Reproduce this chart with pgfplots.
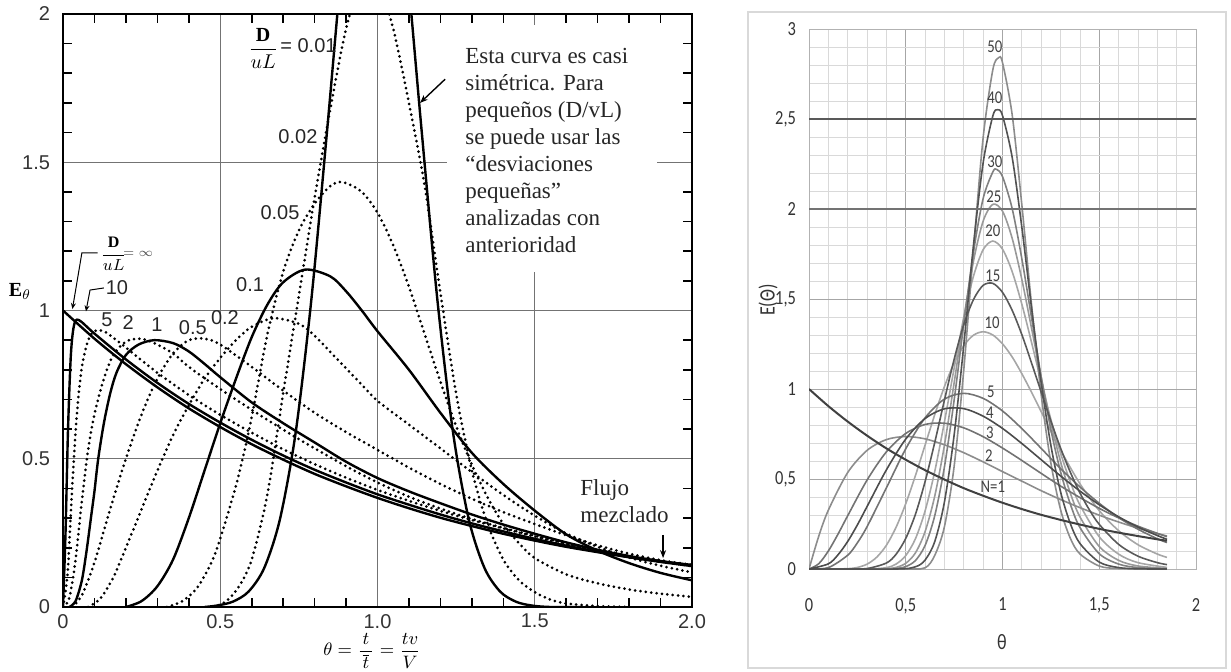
\documentclass[border=0pt]{standalone}
\usepackage{amsmath}
\usepackage{pgfplots}
\pgfplotsset{compat=1.18}
\usetikzlibrary{arrows.meta}
\usepackage{fontspec}
\setmainfont{Liberation Serif}
\newfontfamily\lsans{Liberation Sans}
\newfontfamily\calf[FakeStretch=0.82]{Carlito}
\tikzset{
 solc/.style={black, line width=1.2pt, smooth},
 dotc/.style={black, line width=1.5pt, line cap=round, dash pattern=on 0pt off 2.7pt, smooth},
 lab/.style={font=\lsans\fontsize{10}{12}\selectfont, text=black!85},
 nlab/.style={font=\calf\fontsize{9}{11}\selectfont, text=black!75, inner sep=0.5pt},
}
\begin{document}
\begin{tikzpicture}
\path[use as bounding box] (0,0) rectangle (615.5pt,335.5pt);
\draw[black!15, line width=0.8pt] (374pt,1.5pt) rectangle (613pt,329.5pt);
% ---------------- LEFT PANEL ----------------
\begin{axis}[
 at={(31.5pt,32pt)}, anchor=south west,
 scale only axis, width=314.5pt, height=296.5pt,
 xmin=0, xmax=2, ymin=0, ymax=2,
 xtick={0,0.5,1,1.5,2}, xticklabels={0,0.5,1.0,1.5,2.0},
 ytick={0,0.5,1,1.5,2}, yticklabels={0,0.5,1,1.5,2},
 ticklabel pos=left,
 major tick length=0pt,
 grid=major, major grid style={black!55, line width=0.5pt},
 axis line style={black, line width=1pt},
 ticklabel style={font=\lsans\fontsize{10}{12}\selectfont, text=black!80},
 yticklabel style={xshift=-3pt},
 clip=true,
]
% mixed flow (D/uL = infinity)
\addplot[solc] coordinates {(0,1.0) (0.1,0.905) (0.2,0.819) (0.3,0.741) (0.4,0.670) (0.5,0.607) (0.6,0.549) (0.7,0.497) (0.8,0.449) (0.9,0.407) (1.0,0.368) (1.1,0.333) (1.2,0.301) (1.3,0.273) (1.4,0.247) (1.5,0.224) (1.6,0.203) (1.7,0.185) (1.8,0.168) (1.9,0.154) (2.0,0.142)};
% 10
\addplot[solc] coordinates {(0,0) (0.008,0.25) (0.016,0.6) (0.025,0.85) (0.035,0.95) (0.05,0.968) (0.1,0.922) (0.2,0.835) (0.3,0.756) (0.4,0.685) (0.5,0.622) (0.6,0.564) (0.7,0.511) (0.8,0.463) (0.9,0.42) (1.0,0.38) (1.1,0.345) (1.2,0.312) (1.3,0.282) (1.4,0.255) (1.5,0.23) (1.6,0.207) (1.7,0.187) (1.8,0.168) (1.9,0.152) (2.0,0.138)};
% 5
\addplot[dotc] coordinates {(0,0) (0.015,0.12) (0.03,0.42) (0.045,0.66) (0.06,0.81) (0.08,0.9) (0.1,0.93) (0.13,0.93) (0.17,0.9) (0.2,0.875) (0.3,0.79) (0.4,0.715) (0.5,0.648) (0.6,0.588) (0.7,0.532) (0.8,0.482) (0.9,0.436) (1.0,0.395) (1.1,0.358) (1.2,0.324) (1.3,0.293) (1.4,0.265) (1.5,0.238) (1.6,0.213) (1.7,0.19) (1.8,0.17) (1.9,0.153) (2.0,0.138)};
% 2
\addplot[dotc] coordinates {(0,0) (0.02,0.03) (0.04,0.16) (0.06,0.36) (0.08,0.53) (0.1,0.65) (0.13,0.77) (0.16,0.85) (0.2,0.895) (0.24,0.905) (0.28,0.895) (0.35,0.855) (0.4,0.81) (0.5,0.735) (0.6,0.665) (0.7,0.598) (0.8,0.535) (0.9,0.475) (1.0,0.42) (1.1,0.372) (1.2,0.332) (1.3,0.297) (1.4,0.267) (1.5,0.24) (1.6,0.215) (1.7,0.193) (1.8,0.172) (1.9,0.155) (2.0,0.14)};
% 1
\addplot[solc] coordinates {(0.02,0) (0.04,0.02) (0.06,0.09) (0.075,0.19) (0.09,0.31) (0.1,0.39) (0.112,0.5) (0.13,0.62) (0.15,0.72) (0.17,0.79) (0.2,0.85) (0.24,0.885) (0.29,0.9) (0.35,0.89) (0.4,0.862) (0.45,0.82) (0.5,0.775) (0.6,0.69) (0.7,0.62) (0.8,0.555) (0.9,0.49) (1.0,0.435) (1.1,0.39) (1.2,0.35) (1.3,0.312) (1.4,0.278) (1.5,0.247) (1.6,0.218) (1.7,0.193) (1.8,0.172) (1.9,0.155) (2.0,0.14)};
% 0.5
\addplot[dotc] coordinates {(0.03,0) (0.06,0.04) (0.1,0.15) (0.15,0.33) (0.2,0.5) (0.25,0.65) (0.3,0.77) (0.35,0.855) (0.4,0.9) (0.45,0.905) (0.5,0.885) (0.6,0.81) (0.7,0.73) (0.8,0.655) (0.9,0.59) (1.0,0.53) (1.1,0.47) (1.2,0.415) (1.3,0.365) (1.4,0.32) (1.5,0.28) (1.6,0.242) (1.7,0.208) (1.8,0.18) (1.9,0.158) (2.0,0.142)};
% 0.2
\addplot[dotc] coordinates {(0.08,0) (0.12,0.03) (0.16,0.1) (0.2,0.2) (0.25,0.33) (0.3,0.46) (0.35,0.58) (0.4,0.68) (0.45,0.77) (0.5,0.84) (0.55,0.9) (0.6,0.945) (0.67,0.974) (0.75,0.955) (0.8,0.915) (0.85,0.86) (0.9,0.805) (0.95,0.75) (1.0,0.695) (1.1,0.615) (1.2,0.535) (1.3,0.455) (1.4,0.378) (1.5,0.308) (1.6,0.248) (1.7,0.203) (1.8,0.167) (1.9,0.139) (2.0,0.117)};
% 0.1
\addplot[solc] coordinates {(0.2,0) (0.25,0.02) (0.3,0.07) (0.35,0.16) (0.4,0.3) (0.45,0.46) (0.5,0.62) (0.55,0.77) (0.6,0.91) (0.65,1.02) (0.7,1.095) (0.77,1.138) (0.85,1.115) (0.9,1.065) (0.95,1.0) (1.0,0.93) (1.1,0.8) (1.2,0.655) (1.3,0.52) (1.4,0.415) (1.5,0.325) (1.6,0.245) (1.7,0.19) (1.8,0.148) (1.9,0.115) (2.0,0.09)};
% 0.05
\addplot[dotc] coordinates {(0.33,0) (0.38,0.02) (0.43,0.07) (0.48,0.17) (0.52,0.3) (0.56,0.45) (0.6,0.64) (0.65,0.92) (0.7,1.13) (0.75,1.27) (0.8,1.36) (0.85,1.42) (0.89,1.433) (0.95,1.4) (1.0,1.33) (1.05,1.22) (1.1,1.08) (1.15,0.92) (1.2,0.76) (1.25,0.61) (1.3,0.48) (1.35,0.37) (1.4,0.28) (1.45,0.215) (1.5,0.165) (1.6,0.11) (1.7,0.08) (1.8,0.059) (1.9,0.045) (2.0,0.034)};
% 0.02
\addplot[dotc] coordinates {(0.48,0) (0.52,0.02) (0.56,0.07) (0.6,0.16) (0.65,0.38) (0.7,0.72) (0.75,1.05) (0.8,1.38) (0.85,1.68) (0.9,1.95) (0.95,2.12) (0.97,2.15) (1.0,2.12) (1.05,1.95) (1.1,1.7) (1.15,1.42) (1.2,1.06) (1.25,0.72) (1.3,0.46) (1.35,0.28) (1.4,0.16) (1.45,0.09) (1.5,0.05) (1.55,0.025) (1.6,0.012) (1.7,0.003) (1.8,0)};
% 0.01
\addplot[solc] coordinates {(0.45,0) (0.49,0.005) (0.54,0.018) (0.59,0.052) (0.64,0.132) (0.69,0.297) (0.74,0.59) (0.79,1.04) (0.84,1.61) (0.89,2.2) (0.94,2.65) (0.99,2.82) (1.04,2.65) (1.09,2.2) (1.14,1.61) (1.19,1.04) (1.24,0.59) (1.29,0.297) (1.34,0.132) (1.39,0.052) (1.44,0.018) (1.49,0.005) (1.55,0) (1.65,0)};
\end{axis}
% left-panel annotations (theta,E) coordinates
\begin{scope}[shift={(31.5pt,32pt)}, x=157.25pt, y=148.25pt]
\fill[white] (1.221,1.962) rectangle (1.889,1.13);
\foreach \t in {0.1,0.2,0.3,0.4,0.6,0.7,0.8,0.9,1.1,1.2,1.3,1.4,1.6,1.7,1.8,1.9} {
  \draw[black, line width=0.8pt] (\t,0) -- ++(0,4.5pt);
  \draw[black, line width=0.8pt] (\t,2) -- ++(0,-4.5pt);
  \draw[black, line width=0.8pt] (0,\t) -- ++(4.5pt,0);
  \draw[black, line width=0.8pt] (2,\t) -- ++(-4.5pt,0);
}
\node[anchor=north west, inner sep=0, align=left, font=\fontsize{11.5}{13.5}\selectfont, text=black!85] at (1.278,1.885) {Esta curva es casi\\simétrica. Para\\pequeños (D/vL)\\se puede usar las\\ “desviaciones\\pequeñas”\\analizadas con\\anterioridad};
\draw[line width=0.7pt, -{Stealth[length=4pt,width=3pt]}] (1.215,1.78) -- (1.135,1.70);
\node[anchor=north west, inner sep=0, align=left, font=\fontsize{11.5}{13.5}\selectfont, text=black!85] at (1.644,0.432) {Flujo\\mezclado};
\draw[line width=0.7pt, -{Stealth[length=4pt,width=3pt]}] (1.908,0.243) -- (1.908,0.165);
\node[lab] at (0.747,1.585) {0.02};
\node[lab] at (0.69,1.329) {0.05};
\node[lab] at (0.595,1.086) {0.1};
\node[lab] at (0.515,0.975) {0.2};
\node[lab] at (0.413,0.941) {0.5};
\node[lab] at (0.299,0.951) {1};
\node[lab] at (0.207,0.961) {2};
\node[lab] at (0.14,0.968) {5};
\node[lab, anchor=west, inner sep=0] at (0.135,1.076) {10};
\draw[line width=0.5pt, -{Stealth[length=3pt,width=2.5pt]}] (0.13,1.076) -- (0.086,1.069) -- (0.073,0.997);
\draw[line width=0.5pt, -{Stealth[length=3pt,width=2.5pt]}] (0.11,1.194) -- (0.060,1.194) -- (0.03,1.005);
\node[anchor=east, inner sep=0, font=\fontsize{10}{12}\selectfont] at (0.685,1.885) {$\dfrac{\mathbf{D}}{uL}$};
\node[lab, anchor=west, inner sep=0] at (0.69,1.895) {= 0.01};
\node[anchor=west, inner sep=0, font=\fontsize{8}{9}\selectfont] at (0.118,1.19) {$\dfrac{\mathbf{D}}{uL}$};
\node[anchor=west, inner sep=0, font=\fontsize{6}{7}\selectfont, text=black!70] at (0.19,1.19) {$=\infty$};
\end{scope}
\node[font=\fontsize{10}{12}\selectfont] at (10pt,190pt) {$\mathbf{E}_{\theta}$};
\node[font=\fontsize{9.5}{12}\selectfont] at (186pt,10pt) {$\theta = \dfrac{t}{\,\overline{t}\,} = \dfrac{tv}{V}$};
% ---------------- RIGHT PANEL ----------------
\begin{axis}[
 at={(404.5pt,51pt)}, anchor=south west,
 scale only axis, width=193.5pt, height=270pt,
 xmin=0, xmax=2, ymin=0, ymax=3,
 xtick={0,0.5,1,1.5,2}, xticklabels={0,{0,5},1,{1,5},2},
 ytick={0,0.5,1,1.5,2,2.5,3}, yticklabels={0,{0,5},1,{1,5},2,{2,5},3},
 minor x tick num=4, minor y tick num=4,
 grid=both, major grid style={black!35, line width=0.5pt}, minor grid style={black!15, line width=0.4pt},
 major tick length=0pt, minor tick length=0pt,
 axis line style={black!30, line width=0.5pt},
 ticklabel pos=left,
 ticklabel style={font=\calf\fontsize{10}{12}\selectfont, text=black!80},
 xticklabel style={yshift=-11pt},
 yticklabel style={xshift=-3pt},
]
% N=10
\addplot[black!35, line width=0.8pt, smooth] coordinates {(0,0) (0.1,0) (0.2,0.0019) (0.25,0.0086) (0.3,0.027) (0.35,0.0656) (0.4,0.132) (0.45,0.232) (0.5,0.363) (0.55,0.519) (0.6,0.689) (0.65,0.858) (0.7,1.014) (0.75,1.144) (0.8,1.241) (0.85,1.299) (0.9,1.318) (0.95,1.3) (1.0,1.251) (1.05,1.178) (1.1,1.085) (1.15,0.982) (1.2,0.874) (1.25,0.765) (1.3,0.66) (1.4,0.474) (1.5,0.324) (1.6,0.213) (1.7,0.135) (1.8,0.0832) (1.85,0.0646)};
% N=20
\addplot[black!35, line width=0.8pt, smooth] coordinates {(0,0) (0.3,0) (0.4,0.0079) (0.45,0.0274) (0.5,0.0746) (0.55,0.168) (0.6,0.323) (0.65,0.543) (0.7,0.818) (0.75,1.115) (0.8,1.398) (0.85,1.627) (0.9,1.774) (0.95,1.822) (1.0,1.777) (1.05,1.652) (1.1,1.471) (1.15,1.259) (1.2,1.04) (1.25,0.831) (1.3,0.644) (1.35,0.485) (1.4,0.356) (1.5,0.179) (1.6,0.0825) (1.7,0.0353) (1.85,0.0088)};
% N=25
\addplot[black!40, line width=0.8pt, smooth] coordinates {(0,0) (0.3,0) (0.4,0.0018) (0.45,0.0089) (0.5,0.0318) (0.55,0.0896) (0.6,0.208) (0.65,0.406) (0.7,0.689) (0.75,1.034) (0.8,1.394) (0.85,1.711) (0.9,1.933) (0.95,2.026) (1.0,1.988) (1.05,1.837) (1.1,1.608) (1.15,1.338) (1.2,1.065) (1.25,0.812) (1.3,0.596) (1.35,0.423) (1.4,0.29) (1.5,0.125) (1.6,0.0482) (1.7,0.0169) (1.85,0.003)};
% N=50
\addplot[black!45, line width=0.8pt, smooth] coordinates {(0,0) (0.5,0) (0.6,0.0068) (0.65,0.0761) (0.7,0.236) (0.75,0.57) (0.8,1.108) (0.85,1.772) (0.9,2.397) (0.95,2.774) (0.98,2.841) (1.0,2.813) (1.05,2.523) (1.1,2.022) (1.15,1.469) (1.2,0.968) (1.25,0.589) (1.3,0.33) (1.35,0.172) (1.4,0.084) (1.5,0.0166) (1.6,0.003) (1.85,0)};
% N=2
\addplot[black!45, line width=0.8pt, smooth] coordinates {(0,0) (0.05,0.181) (0.1,0.327) (0.2,0.536) (0.3,0.659) (0.4,0.719) (0.5,0.736) (0.6,0.723) (0.7,0.69) (0.8,0.646) (0.9,0.595) (1.0,0.541) (1.1,0.488) (1.2,0.435) (1.3,0.386) (1.4,0.341) (1.5,0.299) (1.6,0.261) (1.7,0.227) (1.8,0.197) (1.85,0.183)};
% N=30
\addplot[black!50, line width=0.8pt, smooth] coordinates {(0,0) (0.4,0) (0.45,0.0028) (0.5,0.0133) (0.55,0.047) (0.6,0.131) (0.65,0.297) (0.7,0.568) (0.75,0.938) (0.8,1.362) (0.85,1.761) (0.9,2.059) (0.95,2.206) (0.97,2.22) (1.0,2.18) (1.05,2.002) (1.1,1.723) (1.15,1.397) (1.2,1.066) (1.25,0.774) (1.3,0.54) (1.35,0.362) (1.4,0.231) (1.5,0.0849) (1.6,0.0274) (1.7,0.0079) (1.85,0.001)};
% N=3
\addplot[black!55, line width=0.8pt, smooth] coordinates {(0,0) (0.05,0.029) (0.1,0.1) (0.15,0.194) (0.2,0.296) (0.3,0.494) (0.4,0.651) (0.5,0.753) (0.6,0.803) (0.7,0.81) (0.8,0.784) (0.9,0.735) (1.0,0.672) (1.1,0.603) (1.2,0.531) (1.3,0.461) (1.4,0.397) (1.5,0.337) (1.6,0.284) (1.7,0.238) (1.8,0.198) (1.85,0.18)};
% N=5
\addplot[black!55, line width=0.8pt, smooth] coordinates {(0,0) (0.1,0.0079) (0.2,0.0767) (0.25,0.1457) (0.3,0.235) (0.4,0.451) (0.5,0.668) (0.6,0.84) (0.7,0.944) (0.8,0.976) (0.9,0.948) (1.0,0.878) (1.1,0.78) (1.2,0.67) (1.3,0.558) (1.4,0.456) (1.5,0.365) (1.6,0.286) (1.7,0.221) (1.8,0.168) (1.85,0.147)};
% N=15
\addplot[black!65, line width=0.8pt, smooth] coordinates {(0,0) (0.2,0) (0.3,0.0027) (0.4,0.0334) (0.45,0.082) (0.5,0.17) (0.55,0.304) (0.6,0.486) (0.65,0.704) (0.7,0.939) (0.75,1.165) (0.8,1.358) (0.85,1.497) (0.9,1.576) (0.95,1.587) (1.0,1.537) (1.05,1.437) (1.1,1.302) (1.15,1.145) (1.2,0.983) (1.25,0.822) (1.3,0.672) (1.35,0.539) (1.4,0.423) (1.45,0.327) (1.5,0.248) (1.6,0.137) (1.7,0.0713) (1.8,0.0354) (1.85,0.0245)};
% N=40
\addplot[black!68, line width=0.8pt, smooth] coordinates {(0,0) (0.45,0) (0.55,0.0124) (0.6,0.0499) (0.65,0.153) (0.7,0.373) (0.75,0.744) (0.8,1.245) (0.85,1.799) (0.9,2.257) (0.95,2.517) (0.975,2.552) (1.0,2.519) (1.05,2.287) (1.1,1.898) (1.15,1.451) (1.2,1.035) (1.25,0.687) (1.3,0.429) (1.35,0.254) (1.4,0.142) (1.5,0.0382) (1.6,0.008) (1.7,0.001) (1.85,0)};
% N=4
\addplot[black!70, line width=0.8pt, smooth] coordinates {(0,0) (0.1,0.0286) (0.15,0.079) (0.2,0.153) (0.25,0.245) (0.3,0.347) (0.4,0.551) (0.5,0.722) (0.6,0.836) (0.7,0.89) (0.8,0.891) (0.9,0.849) (1.0,0.781) (1.1,0.697) (1.2,0.607) (1.3,0.517) (1.4,0.433) (1.5,0.357) (1.6,0.29) (1.7,0.233) (1.8,0.186) (1.85,0.165)};
% N=1
\addplot[black!75, line width=1pt, smooth] coordinates {(0,1.0) (0.1,0.905) (0.2,0.819) (0.3,0.741) (0.4,0.67) (0.5,0.607) (0.6,0.549) (0.7,0.497) (0.8,0.449) (0.9,0.407) (1.0,0.368) (1.1,0.333) (1.2,0.301) (1.3,0.273) (1.4,0.247) (1.5,0.223) (1.6,0.202) (1.7,0.183) (1.8,0.165) (1.85,0.157)};
\end{axis}
% right-panel darker lines and labels
\begin{scope}[shift={(404.5pt,51pt)}, x=96.75pt, y=90pt]
\draw[black!65, line width=0.6pt] (0,2.5) -- (2,2.5);
\draw[black!55, line width=0.6pt] (0,2) -- (2,2);
\node[nlab] at (0.96,2.90) {50};
\node[nlab] at (0.96,2.62) {40};
\node[nlab] at (0.96,2.26) {30};
\node[nlab] at (0.955,2.07) {25};
\node[nlab] at (0.95,1.88) {20};
\node[nlab] at (0.95,1.63) {15};
\node[nlab] at (0.946,1.37) {10};
\node[nlab] at (0.94,0.985) {5};
\node[nlab] at (0.935,0.87) {4};
\node[nlab] at (0.935,0.755) {3};
\node[nlab] at (0.93,0.63) {2};
\node[nlab] at (0.95,0.455) {N=1};
\end{scope}
\node[rotate=90, font=\calf\fontsize{11}{13}\selectfont, text=black!80] at (384pt,185.5pt) {E(Θ)};
\node[font=\calf\fontsize{11}{13}\selectfont, text=black!80] at (501pt,14.5pt) {θ};
\end{tikzpicture}
\end{document}
